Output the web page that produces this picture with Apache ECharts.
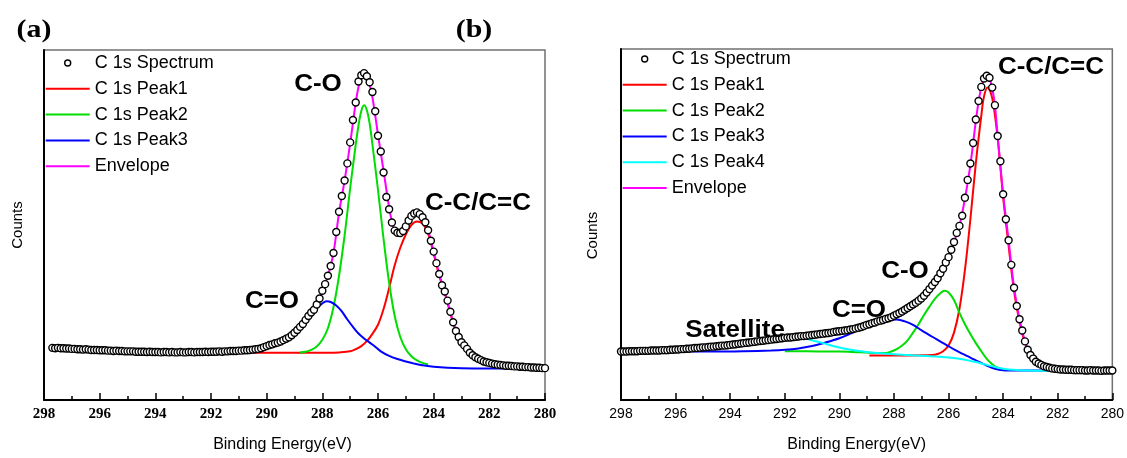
<!DOCTYPE html>
<html>
<head>
<meta charset="utf-8">
<script src="https://cdn.jsdelivr.net/npm/echarts@6/dist/echarts.min.js"></script>
<style>
  html, body { margin: 0; padding: 0; background: #fff; }
  #chart { width: 1127px; height: 458px; }
</style>
</head>
<body>
<div id="chart"></div>
<script>
// Binding-energy sampling of the measured spectra (eV, descending, 0.1 eV steps)
const E_STEP = 0.1;
const A_E_START = 297.7;
const B_E_START = 298.0;
const X_TICKS = [280, 298, 2];   // min, max, interval

// (a) measured C 1s spectrum, counts (arb. units) from 297.7 eV down to 280.0 eV
const aSpectrum = [
  14.9,14.8,14.9,14.8,14.8,14.7,14.7,
  14.6,14.6,14.5,14.5,14.4,14.5,14.4,14.3,14.3,14.3,
  14.2,14.2,14.2,14.1,14.1,14.0,14.1,14.0,14.0,13.9,
  13.9,13.9,13.9,13.8,13.8,13.8,13.8,13.7,13.8,13.7,
  13.7,13.7,13.6,13.7,13.7,13.6,13.7,13.6,13.6,13.7,
  13.6,13.6,13.7,13.7,13.6,13.7,13.7,13.7,13.8,13.7,
  13.8,13.8,13.8,13.9,13.8,13.9,13.9,14.0,14.0,14.0,
  14.1,14.1,14.2,14.2,14.3,14.4,14.5,14.6,14.8,15.1,
  15.4,15.7,15.9,16.2,16.4,16.7,17.1,17.5,17.9,18.5,
  19.2,20.0,20.9,21.7,22.9,24.0,25.0,25.8,27.3,29.0,
  31.2,33.1,35.5,38.3,42.0,48.0,53.8,58.3,62.7,67.6,
  73.6,80.0,85.0,91.0,92.8,93.4,92.5,90.8,88.0,82.5,
  75.5,71.0,65.0,58.0,54.5,50.7,48.4,47.8,47.7,48.3,
  49.6,51.3,52.6,53.3,53.6,53.1,52.2,50.8,48.5,45.5,
  42.4,39.1,36.0,32.8,31.0,28.4,25.2,22.2,19.7,18.0,
  16.5,15.6,14.6,13.5,12.8,12.2,11.8,11.4,11.0,10.8,
  10.6,10.4,10.2,10.1,10.0,9.9,9.8,9.8,9.7,9.6,
  9.6,9.5,9.5,9.4,9.4,9.3,9.3,9.2,9.2,9.1,
  9.1
];

// (a) fitted components as [binding energy, counts]
const aPeak1 = [
  [290.6,13.5],[289.5,13.5],[288.5,13.5],[287.8,13.5],[287.4,13.6],[287.0,13.9],[286.8,14.5],
  [286.6,15.4],[286.4,16.8],[286.2,18.9],[286.0,21.5],[285.8,26.0],[285.6,32.0],[285.4,38.5],
  [285.2,43.5],[285.0,47.3],[284.8,50.0],[284.6,51.0],[284.4,50.4],[284.2,47.6],[284.0,41.8],
  [283.8,35.5],[283.6,30.5],[283.4,24.8],[283.2,19.5],[283.0,16.3],[282.8,14.3],[282.6,12.7],
  [282.4,11.6],[282.2,10.9],[282.0,10.5],[281.6,10.0],[281.2,9.7],[280.8,9.5],[280.4,9.3],[280.0,9.1]
];
const aPeak2 = [
  [288.8,13.6],[288.6,13.8],[288.4,14.3],[288.2,15.3],[288.0,17.2],[287.8,20.5],[287.6,26.5],
  [287.4,35.5],[287.2,47.0],[287.0,60.5],[286.8,73.0],[286.7,78.5],[286.6,82.6],[286.5,84.2],
  [286.4,82.8],[286.3,79.0],[286.2,73.0],[286.0,60.0],[285.8,46.0],[285.6,33.5],[285.4,24.0],
  [285.2,18.0],[285.0,14.5],[284.8,12.5],[284.6,11.3],[284.4,10.6],[284.2,10.2]
];
const aPeak3 = [
  [289.6,15.6],[289.2,17.3],[288.9,19.3],[288.6,22.0],[288.4,24.3],[288.2,26.2],[288.0,27.6],
  [287.85,28.2],[287.7,28.0],[287.5,27.0],[287.3,25.3],[287.1,23.0],[286.9,20.9],[286.7,19.0],
  [286.5,17.6],[286.3,16.4],[286.1,15.2],[285.9,13.9],[285.6,12.6],[285.3,11.7],[285.0,11.0],
  [284.7,10.4],[284.4,9.9],[284.0,9.5],[283.5,9.2],[283.0,9.05],[282.0,9.0],[281.0,9.0]
];
const aEnvelope = [
  [290.6,14.1],[290.2,14.9],[289.8,15.9],[289.4,17.1],[289.0,19.2],[288.6,22.9],[288.4,25.0],
  [288.2,27.3],[288.0,31.0],[287.8,35.5],[287.6,42.0],[287.4,53.5],[287.2,62.7],[287.0,73.3],
  [286.8,85.0],[286.7,89.5],[286.6,92.3],[286.5,93.0],[286.4,92.3],[286.3,90.0],[286.2,86.5],
  [286.0,75.8],[285.8,65.5],[285.6,55.0],[285.5,51.0],[285.4,48.6],[285.2,47.8],[285.0,49.5],
  [284.8,52.5],[284.6,53.4],[284.4,52.2],[284.2,48.5],[284.0,42.4],[283.8,36.0],[283.6,30.8],
  [283.4,25.0],[283.2,19.8],[283.0,16.5],[282.8,14.6],[282.6,12.8],[282.4,11.8],[282.2,11.0],
  [282.0,10.6],[281.6,10.0],[281.2,9.7],[280.8,9.5],[280.4,9.3],[280.0,9.1]
];

// (b) measured C 1s spectrum, counts (arb. units) from 298.0 eV down to 280.0 eV
const bSpectrum = [
  13.8,13.8,13.8,13.9,13.9,13.9,13.9,14.0,14.0,14.0,
  14.0,14.1,14.1,14.1,14.1,14.2,14.2,14.2,14.3,14.3,
  14.4,14.4,14.5,14.5,14.6,14.6,14.7,14.8,14.8,14.9,
  15.0,15.0,15.1,15.2,15.2,15.3,15.4,15.5,15.5,15.6,
  15.7,15.8,15.9,16.0,16.1,16.2,16.3,16.4,16.5,16.6,
  16.7,16.8,16.9,17.0,17.1,17.2,17.3,17.4,17.5,17.6,
  17.7,17.8,17.8,17.9,18.0,18.1,18.2,18.2,18.3,18.4,
  18.5,18.6,18.7,18.8,18.9,19.0,19.1,19.2,19.4,19.5,
  19.6,19.7,19.8,19.9,20.1,20.2,20.4,20.6,20.8,21.1,
  21.4,21.6,21.9,22.1,22.4,22.6,22.8,23.1,23.3,23.6,
  24.0,24.4,24.8,25.2,25.7,26.2,26.7,27.2,27.7,28.3,
  28.9,29.7,30.6,31.6,32.6,33.6,34.7,36.1,37.4,39.2,
  40.7,42.8,45.0,47.6,49.6,52.5,57.6,62.7,67.4,73.2,
  79.9,85.2,89.2,91.6,92.4,91.8,89.0,84.0,75.2,68.0,
  58.6,51.5,45.5,38.5,32.0,26.8,23.0,19.8,16.7,14.3,
  12.8,11.8,10.9,10.4,10.0,9.6,9.4,9.2,9.0,8.9,
  8.8,8.7,8.7,8.6,8.6,8.6,8.5,8.5,8.5,8.5,
  8.4,8.4,8.5,8.4,8.4,8.4,8.3,8.4,8.4,8.4,
  8.4
];

// (b) fitted components as [binding energy, counts]
const bPeak1 = [
  [288.9,12.7],[287.5,12.7],[286.6,12.8],[286.4,13.1],[286.2,13.9],[286.0,15.5],[285.8,19.2],
  [285.6,26.0],[285.4,37.0],[285.2,51.5],[285.0,67.5],[284.8,81.0],[284.7,86.5],[284.57,89.0],
  [284.4,86.0],[284.2,74.5],[284.0,57.8],[283.8,44.0],[283.6,31.0],[283.4,22.3],[283.2,16.2],
  [283.0,12.5],[282.8,10.6],[282.6,9.6],[282.4,9.1],[282.2,8.8],[282.0,8.6],[281.5,8.5],
  [281.0,8.4],[280.0,8.4]
];
const bPeak2 = [
  [292.0,13.9],[291.2,13.9],[290.4,13.8],[290.0,13.8],[289.5,13.7],[289.0,13.5],[288.6,13.4],
  [288.3,13.4],[288.1,13.8],[287.9,14.5],[287.7,15.5],[287.5,17.0],[287.3,19.2],[287.1,21.6],
  [286.9,24.2],[286.7,26.6],[286.5,28.8],[286.3,30.4],[286.15,31.1],[286.0,30.6],[285.8,28.5],
  [285.6,24.8],[285.4,21.6],[285.2,18.8],[285.0,16.2],[284.8,13.9],[284.6,11.7],[284.4,10.2],
  [284.2,9.2],[284.0,8.7]
];
const bPeak3 = [
  [295.4,13.8],[294.5,13.8],[293.5,13.9],[292.5,14.1],[292.0,14.3],[291.5,14.7],[291.0,15.4],
  [290.5,16.4],[290.0,17.6],[289.5,19.2],[289.0,20.8],[288.6,22.0],[288.2,22.8],[287.9,22.9],
  [287.6,22.4],[287.3,21.4],[287.0,19.9],[286.7,18.5],[286.4,17.1],[286.1,15.8],[285.8,14.4],
  [285.5,13.2],[285.2,12.1],[284.9,10.9],[284.6,9.8],[284.3,8.9],[284.0,8.5],[283.5,8.4],
  [282.5,8.4],[282.0,8.4]
];
const bPeak4 = [
  [292.6,17.4],[292.0,17.6],[291.6,17.8],[291.3,17.6],[291.0,17.0],[290.6,16.2],[290.2,15.3],
  [289.8,14.6],[289.4,14.1],[289.0,13.7],[288.5,13.3],[288.0,13.0],[287.5,12.8],[287.0,12.6],
  [286.5,12.4],[286.0,12.1],[285.5,11.6],[285.0,10.8],[284.6,10.0],[284.2,9.2],[283.8,8.7],
  [283.4,8.5],[283.0,8.4],[282.5,8.3],[282.0,8.3]
];
const bEnvelope = [
  [292.6,17.1],[292.0,17.7],[291.0,18.5],[290.0,19.6],[289.0,21.4],[288.0,24.0],[287.5,26.2],
  [287.0,28.9],[286.6,32.6],[286.2,37.4],[286.0,40.7],[285.8,45.0],[285.6,49.6],[285.4,57.4],
  [285.2,67.0],[285.0,79.5],[284.9,85.0],[284.8,89.0],[284.7,91.3],[284.6,92.0],[284.5,91.4],
  [284.4,88.8],[284.3,83.8],[284.2,75.2],[284.0,58.6],[283.8,45.5],[283.6,32.0],[283.4,23.0],
  [283.2,16.7],[283.0,12.8],[282.8,10.9],[282.6,10.0],[282.4,9.4],[282.2,9.0],[282.0,8.8],
  [281.5,8.6],[281.0,8.4],[280.0,8.4]
];

// Legend entries and peak labels
const A_LEGEND = ['C 1s Spectrum', 'C 1s Peak1', 'C 1s Peak2', 'C 1s Peak3', 'Envelope'];
const B_LEGEND = ['C 1s Spectrum', 'C 1s Peak1', 'C 1s Peak2', 'C 1s Peak3', 'C 1s Peak4', 'Envelope'];
const PANEL_TAGS = ['(a)', '(b)'];
const X_NAME = 'Binding Energy(eV)';
const Y_NAME = 'Counts';

const COLORS = {
  'C 1s Peak1': '#ff0000',
  'C 1s Peak2': '#00dd00',
  'C 1s Peak3': '#0000ff',
  'C 1s Peak4': '#00ffff',
  'Envelope': '#ff00ff'
};

// legend swatches: a short horizontal stroke for fitted curves, a small open circle for the data
const LINE_ICON = 'path://M0,0M44,14M0,6L44,6L44,8L0,8Z';
const DOT_ICON = 'path://M0,0M44,14M19,7a3,3 0 1,0 6,0a3,3 0 1,0 -6,0';

function withEnergies(start, values) {
  return values.map((v, i) => [Math.round((start - i * E_STEP) * 100) / 100, v]);
}

function lineSeries(name, data, idx) {
  return {
    type: 'line', name, data,
    xAxisIndex: idx, yAxisIndex: idx,
    symbol: 'none', smooth: 0.35,
    lineStyle: { color: COLORS[name], width: 2 },
    itemStyle: { color: COLORS[name] },
    z: name === 'Envelope' ? 3 : 2,
    silent: true
  };
}

function spectrumSeries(data, idx) {
  return {
    type: 'scatter', name: 'C 1s Spectrum', data,
    xAxisIndex: idx, yAxisIndex: idx,
    symbol: 'circle', symbolSize: 7,
    itemStyle: { color: '#ffffff', borderColor: '#000000', borderWidth: 1.4, opacity: 1 },
    z: 5, silent: true
  };
}

function xAxis(idx, labelFont, labelSize, labelWeight, namePad) {
  return {
    gridIndex: idx, type: 'value', inverse: true,
    min: X_TICKS[0], max: X_TICKS[1], interval: X_TICKS[2],
    name: X_NAME, nameLocation: 'middle', nameGap: 37,
    nameTextStyle: { fontFamily: 'Liberation Sans', fontSize: 16, color: '#000', padding: namePad },
    axisLine: { show: true, lineStyle: { color: '#000', width: 2 } },
    axisTick: { show: true, inside: true, length: 7, lineStyle: { color: '#000', width: 1.5 } },
    minorTick: { show: true, splitNumber: 2, length: 4, lineStyle: { color: '#000', width: 1.5 } },
    axisLabel: { margin: 7, fontFamily: labelFont, fontSize: labelSize, fontWeight: labelWeight, color: '#000' },
    splitLine: { show: false }, minorSplitLine: { show: false }
  };
}

function yAxis(idx, gap, namePad) {
  return {
    gridIndex: idx, type: 'value', min: 0, max: 100,
    name: Y_NAME, nameLocation: 'middle', nameGap: gap, nameRotate: 90,
    nameTextStyle: { fontFamily: 'Liberation Sans', fontSize: 15, color: '#000', padding: namePad },
    axisLine: { show: true, lineStyle: { color: '#000', width: 2 } },
    axisTick: { show: false }, axisLabel: { show: false },
    splitLine: { show: false }
  };
}

function legendBlock(names, left, top) {
  return {
    orient: 'vertical', left, top, padding: 0,
    itemWidth: 44, itemHeight: 14, itemGap: 7.8,
    selectedMode: false,
    textStyle: { fontFamily: 'Liberation Sans', fontSize: 18, color: '#000' },
    data: names.map(n => n === 'C 1s Spectrum'
      ? { name: n, icon: DOT_ICON,
          itemStyle: { color: '#ffffff', borderColor: '#000000', borderWidth: 1.4 } }
      : { name: n, icon: LINE_ICON,
          itemStyle: { color: COLORS[n], borderWidth: 0 } })
  };
}

function tag(text, x, y, font, size, scaleX) {
  return {
    type: 'text', x, y, scaleX, silent: true, z: 20,
    style: { text, fontFamily: font, fontSize: size, fontWeight: 'bold', fill: '#000',
             align: 'center', verticalAlign: 'middle' }
  };
}

const chart = echarts.init(document.getElementById('chart'), null, { renderer: 'canvas' });

const option = {
  backgroundColor: '#ffffff',
  animation: false,
  grid: [
    { left: 44, top: 50, width: 501, height: 354, show: true, borderColor: '#707070', borderWidth: 1.5, containLabel: false },
    { left: 621, top: 49, width: 492, height: 356, show: true, borderColor: '#707070', borderWidth: 1.5, containLabel: false }
  ],
  xAxis: [
    xAxis(0, 'Liberation Serif', 15, 'bold', [0, 24, 0, 0]),
    xAxis(1, 'Liberation Sans', 14, 'normal', [0, 20, 0, 0])
  ],
  yAxis: [
    yAxis(0, 19, [0, 0, 0, 0]),
    yAxis(1, 21, [0, 22, 0, 0])
  ],
  legend: [
    legendBlock(A_LEGEND, 45, 54),
    legendBlock(B_LEGEND, 622, 50)
  ],
  series: [
    lineSeries('C 1s Peak1', aPeak1, 0),
    lineSeries('C 1s Peak2', aPeak2, 0),
    lineSeries('C 1s Peak3', aPeak3, 0),
    lineSeries('Envelope', aEnvelope, 0),
    spectrumSeries(withEnergies(A_E_START, aSpectrum), 0),

    lineSeries('C 1s Peak1', bPeak1, 1),
    lineSeries('C 1s Peak2', bPeak2, 1),
    lineSeries('C 1s Peak3', bPeak3, 1),
    lineSeries('C 1s Peak4', bPeak4, 1),
    lineSeries('Envelope', bEnvelope, 1),
    spectrumSeries(withEnergies(B_E_START, bSpectrum), 1)
  ],
  graphic: [
    tag(PANEL_TAGS[0], 34, 30, 'Liberation Serif', 26, 1.15),
    tag(PANEL_TAGS[1], 474, 30, 'Liberation Serif', 26, 1.15),
    tag('C-O', 318, 85, 'Liberation Sans', 23, 1.13),
    tag('C-C/C=C', 478, 204, 'Liberation Sans', 23, 1.13),
    tag('C=O', 272, 302, 'Liberation Sans', 23, 1.13),
    tag('C-C/C=C', 1051, 68, 'Liberation Sans', 23, 1.13),
    tag('C-O', 905, 272, 'Liberation Sans', 23, 1.13),
    tag('C=O', 859, 311, 'Liberation Sans', 23, 1.13),
    tag('Satellite', 735, 331, 'Liberation Sans', 23, 1.13)
  ]
};

chart.setOption(option);
</script>
</body>
</html>
